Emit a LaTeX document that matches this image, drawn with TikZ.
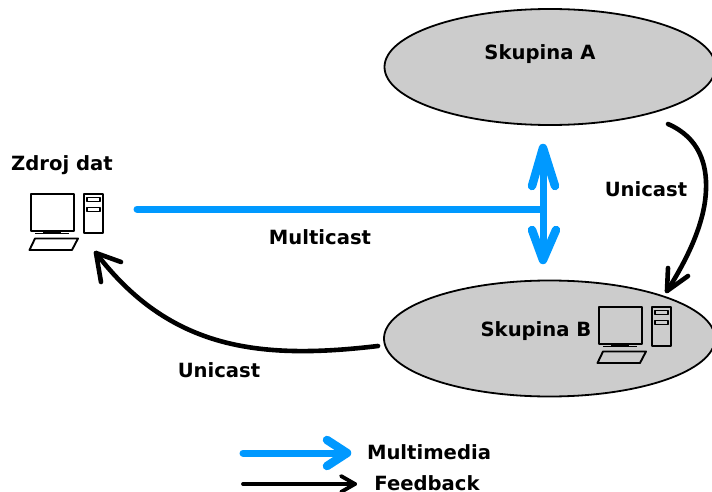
\documentclass[tikz,border=0pt]{standalone}
\usepackage{fontspec}
\setmainfont{DejaVu Sans}
\usetikzlibrary{shapes.geometric}
\definecolor{mblue}{HTML}{0099FF}
\definecolor{egrey}{HTML}{CCCCCC}
\tikzset{
  group/.style={ellipse,draw=black,fill=egrey,line width=1.8pt,minimum width=331pt,minimum height=116pt,inner sep=0pt},
  lbl/.style={font=\fontsize{19.6pt}{23pt}\selectfont\bfseries,inner sep=0pt,anchor=center},
  multi/.style={draw=mblue,line width=7pt,line cap=round,line join=round},
  multitip/.style={draw=mblue,line width=8.5pt,line cap=round,line join=round},
  feed/.style={draw=black,line width=4.6pt,line cap=round,line join=round},
  feedthin/.style={draw=black,line width=3.8pt,line cap=round,line join=round},
  pcline/.style={draw=black,line width=1.9pt,line join=round},
}
\newcommand{\pcdraw}[2]{%
  \begin{scope}[shift={(#1,#2)}]
    \draw[pcline] (31,194) rectangle (74,231);
    \draw[pcline,line width=1.5pt] (35,233.5) -- (69,233.5);
    \fill (43,231) rectangle (61,233.5);
    \draw[pcline] (84,194) rectangle (103,233);
    \draw[pcline,line width=1.5pt] (87,197.5) rectangle (100,201.5);
    \draw[pcline,line width=1.5pt] (87,207.5) rectangle (100,211.5);
    \draw[pcline] (35,238.5) -- (78,238.5) -- (72,250) -- (29.5,250) -- cycle;
  \end{scope}}
\begin{document}
\begin{tikzpicture}[x=1pt,y=-1pt]
\useasboundingbox (0,0) rectangle (712,492);
\begin{scope}
\clip (0,0) rectangle (712,492);
\node[group] (a) at (550,67) {};
\node[group] (b) at (549.5,338.5) {};
\end{scope}
\node[lbl] (la) at (540,54.5) {Skupina A};
\node[lbl] (lb) at (536,331.5) {Skupina B};
\node[lbl] (src) at (62,165.5) {Zdroj dat};
\node[lbl] (uni1) at (646,189) {Unicast};
\node[lbl] (mc) at (320,237) {Multicast};
\node[lbl] (uni2) at (219,370) {Unicast};
\node[lbl] (mm) at (429,452) {Multimedia};
\node[lbl] (fb) at (427,483) {Feedback};
\pcdraw{0}{0}
\pcdraw{568}{113}
% Multicast line and double arrow
\coordinate (h1) at (137,209);
\coordinate (h2) at (542,209);
\coordinate (vt) at (543,148);
\coordinate (vb) at (543,260);
\draw[multi] (h1) -- (h2);
\draw[multi] (vb) -- (vt);
\coordinate (vt1) at (532,186);
\coordinate (vt2) at (555,186);
\coordinate (vb1) at (532,230);
\coordinate (vb2) at (556,230);
\draw[multitip] (vt1) -- (vt) -- (vt2);
\draw[multitip] (vb1) -- (vb) -- (vb2);
% Unicast A to B
\coordinate (u1s) at (668,124);
\coordinate (u1m) at (706,190);
\coordinate (u1e) at (667,291);
\coordinate (u1a) at (668,268);
\coordinate (u1b) at (688,276);
\draw[feed] (u1s) .. controls (700,138) and (707,165) .. (u1m) .. controls (705,220) and (690,255) .. (u1e);
\draw[feed] (u1a) -- (u1e) -- (u1b);
% Unicast B to source
\coordinate (u2s) at (378,346);
\coordinate (u2e) at (96,253);
\coordinate (u2a) at (121,262);
\coordinate (u2b) at (101,282);
\draw[feed] (u2s) .. controls (260,360) and (170,350) .. (u2e);
\draw[feed] (u2a) -- (u2e) -- (u2b);
% Legend
\coordinate (l1s) at (243,453);
\coordinate (l1e) at (347,453);
\coordinate (l1a) at (327,440);
\coordinate (l1b) at (327,466);
\coordinate (l2s) at (243,484);
\coordinate (l2e) at (355,484);
\coordinate (l2a) at (341,476);
\coordinate (l2b) at (341,492);
\draw[multi] (l1s) -- (l1e);
\draw[multitip] (l1a) -- (l1e) -- (l1b);
\draw[feedthin] (l2s) -- (l2e);
\draw[feedthin] (l2a) -- (l2e) -- (l2b);
\end{tikzpicture}
\end{document}
